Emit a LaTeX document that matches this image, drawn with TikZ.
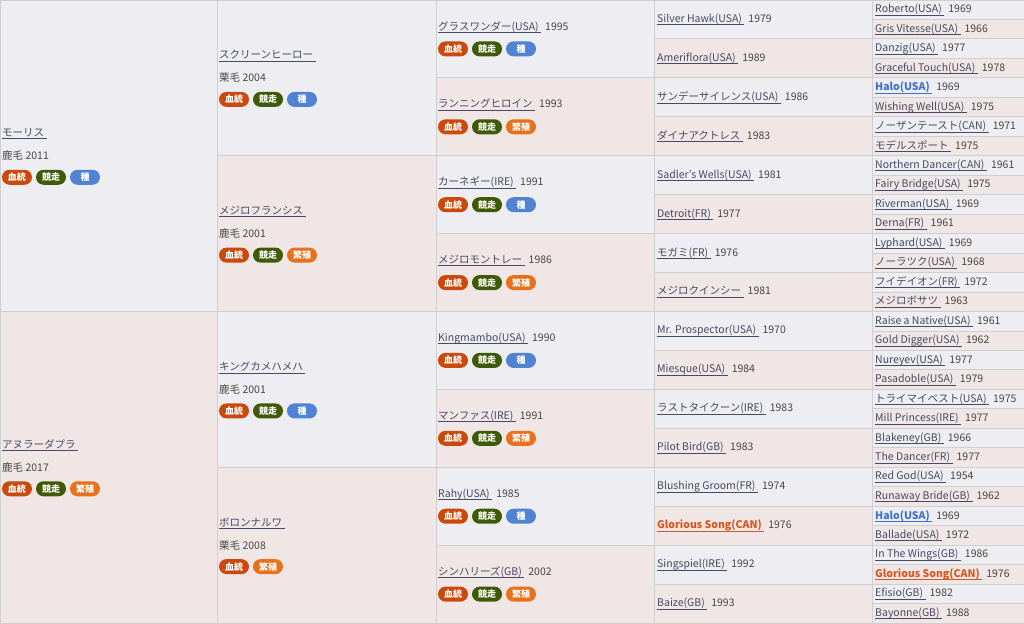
\documentclass[tikz,border=0pt]{standalone}
\usepackage{fontspec}
\setmainfont{Noto Sans CJK JP}
\definecolor{sirebg}{HTML}{EEEDF2}
\definecolor{dambg}{HTML}{F0E6E6}
\definecolor{gridc}{HTML}{CFCFCF}
\definecolor{namec}{HTML}{464A62}
\definecolor{yearc}{HTML}{4A4540}
\definecolor{bl}{HTML}{C94A0C}
\definecolor{kyo}{HTML}{3E5A06}
\definecolor{tane}{HTML}{5083D3}
\definecolor{han}{HTML}{E8711C}
\definecolor{halo}{HTML}{3E70D0}
\definecolor{glor}{HTML}{D6561E}
\newcommand\hn[2][namec]{{\color{#1}\setbox0\hbox{#2\kern2.5pt}\rlap{\raisebox{-2.6pt}{\rule{\wd0}{0.6pt}}}\box0}}
\newcommand\fmtn[1]{\hn{#1}}
\newcommand\fmth[1]{\hn[halo]{\bfseries #1}}
\newcommand\fmtg[1]{\hn[glor]{\bfseries #1}}
\newcommand\yr[1]{\hspace{4pt}\textcolor{yearc}{#1}}
\newcommand\labtane{種}
\newcommand\labhan{繁殖}
\tikzset{
  txt/.style={anchor=west,inner sep=0pt,font=\fontsize{10.5}{12}\selectfont},
  badge/.style={rounded corners=7.5pt,minimum width=30pt,minimum height=15pt,inner sep=0pt,text=white,font=\fontsize{9}{10}\selectfont\bfseries},
}
\newcommand\bA[4]{\node[badge,fill=bl] (#1b1) at (#2+17,#3) {血統};
  \node[badge,fill=kyo] (#1b2) at (#2+51,#3) {競走};
  \node[badge,fill=#4] (#1b3) at (#2+85,#3) {\csname lab#4\endcsname};}
\newcommand\bgA[6]{% id x cy name coat third
  \node[txt] (#1) at (#2+2,#3-22) {\hn{#4}};
  \node[txt] (#1c) at (#2+2,#3) {\textcolor{yearc}{#5}};
  \bA{#1}{#2}{#3+21.5}{#6}}
\newcommand\midA[6]{% id x cy name year third
  \node[txt] (#1) at (#2+2,#3-12) {\hn{#4}\yr{#5}};
  \bA{#1}{#2}{#3+10}{#6}}
\begin{document}
\begin{tikzpicture}[x=1pt,y=-1pt]
\useasboundingbox (0,0) rectangle (1024,623);
\foreach \k/\x/\w in {1/0/217,2/217/219,3/436/218,4/654/218,5/872/170}{
  \pgfmathtruncatemacro\n{2^\k}
  \pgfmathsetmacro\h{623/\n}
  \foreach \j in {1,...,\n}{
    \ifodd\j\def\cc{sirebg}\else\def\cc{dambg}\fi
    \draw[gridc,line width=0.9pt,fill=\cc] (\x,{(\j-1)*\h}) rectangle (\x+\w,{\j*\h});
  }
}
% generation 1
\bgA{g1a}{0}{155.75}{モーリス}{鹿毛 2011}{tane}
\bgA{g1b}{0}{467.25}{アヌラーダプラ}{鹿毛 2017}{han}
% generation 2
\bgA{g2a}{217}{77.9}{スクリーンヒーロー}{栗毛 2004}{tane}
\bgA{g2b}{217}{233.6}{メジロフランシス}{鹿毛 2001}{han}
\bgA{g2c}{217}{389.4}{キングカメハメハ}{鹿毛 2001}{tane}
\node[txt] (g2d) at (219,545.1-22) {\hn{ボロンナルワ}};
\node[txt] (g2dc) at (219,545.1) {\textcolor{yearc}{栗毛 2008}};
\node[badge,fill=bl] (g2db1) at (234,566.6) {血統};
\node[badge,fill=han] (g2db2) at (268,566.6) {繁殖};
% generation 3
\midA{g3a}{436}{38.9}{グラスワンダー(USA)}{1995}{tane}
\midA{g3b}{436}{116.8}{ランニングヒロイン}{1993}{han}
\midA{g3c}{436}{194.7}{カーネギー(IRE)}{1991}{tane}
\midA{g3d}{436}{272.6}{メジロモントレー}{1986}{han}
\midA{g3e}{436}{350.4}{Kingmambo(USA)}{1990}{tane}
\midA{g3f}{436}{428.3}{マンファス(IRE)}{1991}{han}
\midA{g3g}{436}{506.2}{Rahy(USA)}{1985}{tane}
\midA{g3h}{436}{584.1}{シンハリーズ(GB)}{2002}{han}
% generation 4
\foreach \nm/\yy/\cs [count=\i] in {Silver Hawk(USA)/1979/n,Ameriflora(USA)/1989/n,サンデーサイレンス(USA)/1986/n,ダイナアクトレス/1983/n,Sadler’s Wells(USA)/1981/n,Detroit(FR)/1977/n,モガミ(FR)/1976/n,メジロクインシー/1981/n,Mr. Prospector(USA)/1970/n,Miesque(USA)/1984/n,ラストタイクーン(IRE)/1983/n,Pilot Bird(GB)/1983/n,Blushing Groom(FR)/1974/n,Glorious Song(CAN)/1976/g,Singspiel(IRE)/1992/n,Baize(GB)/1993/n}{
  \pgfmathsetmacro\yc{(\i-0.5)*38.9375}
  \node[txt] (g4-\i) at (657,\yc) {\csname fmt\cs\endcsname{\nm}\yr{\yy}};
}
% generation 5
\foreach \nm/\yy/\cs [count=\i] in {Roberto(USA)/1969/n,Gris Vitesse(USA)/1966/n,Danzig(USA)/1977/n,Graceful Touch(USA)/1978/n,Halo(USA)/1969/h,Wishing Well(USA)/1975/n,ノーザンテースト(CAN)/1971/n,モデルスポート/1975/n,Northern Dancer(CAN)/1961/n,Fairy Bridge(USA)/1975/n,Riverman(USA)/1969/n,Derna(FR)/1961/n,Lyphard(USA)/1969/n,ノーラツク(USA)/1968/n,フイデイオン(FR)/1972/n,メジロボサツ/1963/n,Raise a Native(USA)/1961/n,Gold Digger(USA)/1962/n,Nureyev(USA)/1977/n,Pasadoble(USA)/1979/n,トライマイベスト(USA)/1975/n,Mill Princess(IRE)/1977/n,Blakeney(GB)/1966/n,The Dancer(FR)/1977/n,Red God(USA)/1954/n,Runaway Bride(GB)/1962/n,Halo(USA)/1969/h,Ballade(USA)/1972/n,In The Wings(GB)/1986/n,Glorious Song(CAN)/1976/g,Efisio(GB)/1982/n,Bayonne(GB)/1988/n}{
  \pgfmathsetmacro\yc{(\i-0.5)*19.46875}
  \node[txt] (g5-\i) at (875,\yc) {\csname fmt\cs\endcsname{\nm}\yr{\yy}};
}
\end{tikzpicture}
\end{document}
